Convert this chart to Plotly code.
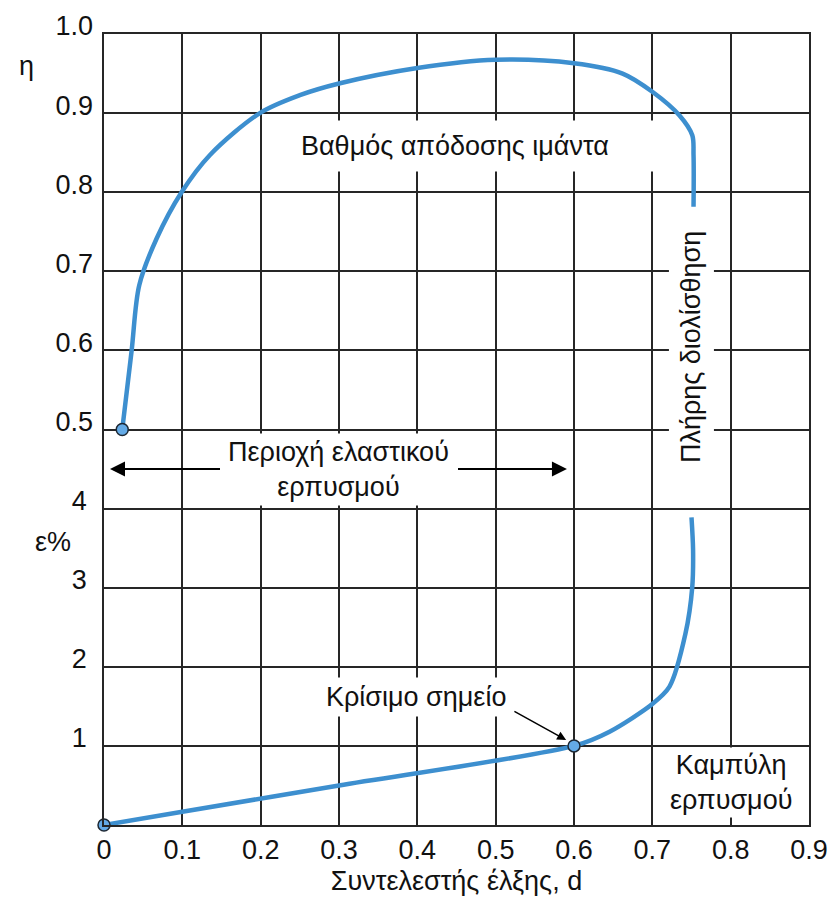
import plotly.graph_objects as go

# Belt efficiency η versus traction coefficient d
d_eta = [0.0233, 0.0353, 0.045, 0.0672, 0.099, 0.135, 0.199, 0.25, 0.3,
         0.4, 0.5, 0.6, 0.662, 0.7, 0.7347, 0.751, 0.7526, 0.7526]
eta = [0.5, 0.6, 0.6824, 0.7415, 0.8, 0.8468, 0.9, 0.9226, 0.9374,
       0.957, 0.9674, 0.963, 0.950, 0.927, 0.897, 0.872, 0.847, 0.7815]

# Creep (slip) ε% versus traction coefficient d
d_eps = [0.0, 0.1, 0.3, 0.6, 0.6454, 0.7, 0.7219, 0.7423, 0.7509, 0.752, 0.75]
eps = [0.0, 0.168, 0.5, 1.0, 1.18, 1.53, 1.75, 2.42, 3.0, 3.48, 3.89]

# Highlighted points
d_eta_start, eta_start = [0.0233], [0.5]
d_eps_pts, eps_pts = [0.0, 0.6], [0.0, 1.0]

# Tick values / labels
d_ticks = [0, 0.1, 0.2, 0.3, 0.4, 0.5, 0.6, 0.7, 0.8, 0.9]
d_labels = ["0", "0.1", "0.2", "0.3", "0.4", "0.5", "0.6", "0.7", "0.8", "0.9"]
eps_ticks = [1, 2, 3, 4]
eps_labels = ["1", "2", "3", "4"]
eta_ticks = [0.5, 0.6, 0.7, 0.8, 0.9, 1.0]
eta_labels = ["0.5", "0.6", "0.7", "0.8", "0.9", "1.0"]

BLUE = "#3d8fcf"
MARK = "#64aae6"
GRID = "#262626"
TXT = "#111111"
FONT = "Arial, Liberation Sans, Helvetica, sans-serif"
FS = 27

fig = go.Figure()

fig.add_trace(go.Scatter(x=d_eta, y=eta, yaxis="y2", mode="lines",
                         line=dict(color=BLUE, width=4.5, shape="spline", smoothing=0.9),
                         hoverinfo="skip", showlegend=False))
fig.add_trace(go.Scatter(x=d_eps, y=eps, yaxis="y", mode="lines",
                         line=dict(color=BLUE, width=4.5, shape="spline", smoothing=0.8),
                         hoverinfo="skip", showlegend=False))
fig.add_trace(go.Scatter(x=d_eta_start, y=eta_start, yaxis="y2", mode="markers",
                         marker=dict(size=12, color=MARK, line=dict(color="#1c2733", width=1.5)),
                         cliponaxis=False, hoverinfo="skip", showlegend=False))
fig.add_trace(go.Scatter(x=d_eps_pts, y=eps_pts, yaxis="y", mode="markers",
                         marker=dict(size=12, color=MARK, line=dict(color="#1c2733", width=1.5)),
                         cliponaxis=False, hoverinfo="skip", showlegend=False))

annots = []

# Curve and region labels
annots.append(dict(x=0.238, y=0.858, xref="x", yref="y2", xanchor="left", yanchor="middle",
                   text="Βαθμός απόδοσης ιμάντα", showarrow=False, bgcolor="white",
                   width=360, align="left", borderpad=10,
                   font=dict(size=FS, color=TXT, family=FONT)))
annots.append(dict(x=0.7497, y=0.6045, xref="x", yref="y2", textangle=-90,
                   text="Πλήρης διολίσθηση", showarrow=False, bgcolor="white",
                   borderpad=7, font=dict(size=FS, color=TXT, family=FONT)))
annots.append(dict(x=0.299, y=0.450, xref="x", yref="y2",
                   text="Περιοχή ελαστικού<br>ερπυσμού", showarrow=False, bgcolor="white",
                   borderpad=3, font=dict(size=FS, color=TXT, family=FONT)))
annots.append(dict(x=0.3986, y=1.62, xref="x", yref="y",
                   text="Κρίσιμο σημείο", showarrow=False, bgcolor="white",
                   borderpad=4, font=dict(size=FS, color=TXT, family=FONT)))
annots.append(dict(x=0.80, y=0.535, xref="x", yref="y",
                   text="Καμπύλη<br>ερπυσμού", showarrow=False, bgcolor="white",
                   borderpad=2, font=dict(size=FS, color=TXT, family=FONT)))

# Elastic creep region arrows
annots.append(dict(x=0.0077, y=0.450, ax=0.150, ay=0.450, xref="x", yref="y2",
                   axref="x", ayref="y2", text="", showarrow=True, arrowhead=2,
                   arrowsize=1.5, arrowwidth=2, arrowcolor="black"))
annots.append(dict(x=0.591, y=0.450, ax=0.45, ay=0.450, xref="x", yref="y2",
                   axref="x", ayref="y2", text="", showarrow=True, arrowhead=2,
                   arrowsize=1.5, arrowwidth=2, arrowcolor="black"))
# Critical point pointer
annots.append(dict(x=0.590, y=1.075, ax=0.522, ay=1.446, xref="x", yref="y",
                   axref="x", ayref="y", text="", showarrow=True, arrowhead=2,
                   arrowsize=1.2, arrowwidth=1.5, arrowcolor="black"))

# Axis name labels
annots.append(dict(x=-0.1234, y=0.96, xref="paper", yref="y2", text="η", showarrow=False,
                   font=dict(size=FS, color=TXT, family=FONT)))
annots.append(dict(x=-0.1007, y=3.58, xref="paper", yref="y", text="ε%", showarrow=False,
                   font=dict(size=FS, color=TXT, family=FONT)))

fig.update_layout(
    width=831, height=900,
    margin=dict(l=104, r=22, t=34, b=75, autoexpand=False),
    paper_bgcolor="white", plot_bgcolor="white",
    font=dict(family=FONT, size=FS, color=TXT),
    annotations=annots,
    xaxis=dict(range=[0, 0.9], tickvals=d_ticks, ticktext=d_labels, automargin=False,
               showgrid=True, gridcolor=GRID, gridwidth=1.5, zeroline=False,
               showline=True, mirror=True, linecolor=GRID, linewidth=1.5,
               ticks="", tickfont=dict(size=FS, color=TXT),
               title=dict(text="Συντελεστής έλξης, d", font=dict(size=FS, color=TXT),
                          standoff=7)),
    yaxis=dict(range=[0, 10], tickvals=eps_ticks, ticktext=eps_labels, automargin=False,
               showgrid=True, gridcolor=GRID, gridwidth=1.5, zeroline=False,
               showline=True, mirror=True, linecolor=GRID, linewidth=1.5,
               ticks="", tickfont=dict(size=FS, color=TXT), ticklabelshift=-8,
               ticklabelstandoff=10),
    yaxis2=dict(range=[0, 1.0], tickvals=eta_ticks, ticktext=eta_labels, automargin=False,
                overlaying="y", side="left", anchor="x",
                showgrid=True, gridcolor=GRID, gridwidth=1.5, zeroline=False,
                ticks="", tickfont=dict(size=FS, color=TXT), ticklabelshift=-8,
                ticklabelstandoff=10),
)

fig.write_html("out.html")
